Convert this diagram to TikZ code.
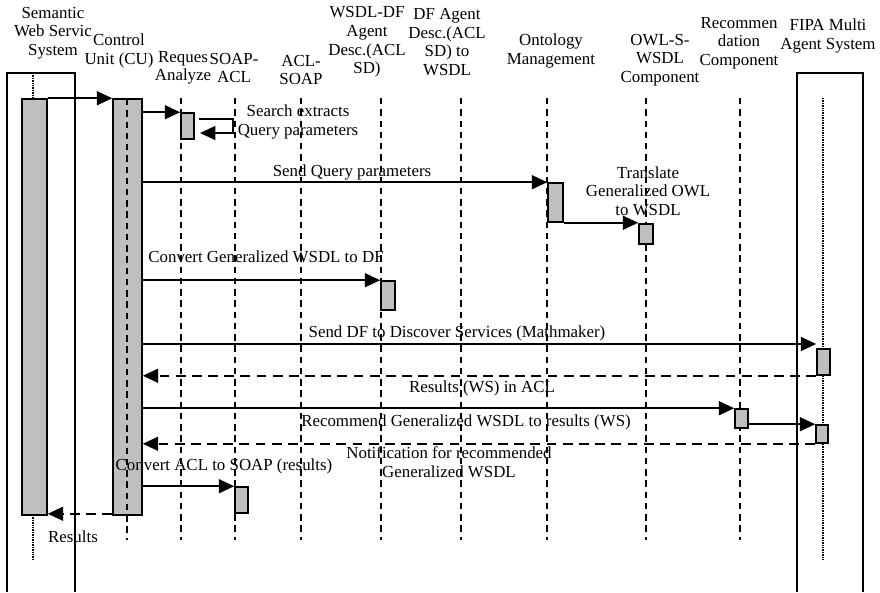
\documentclass[tikz,border=0pt]{standalone}
\usepackage{fontspec}
\setmainfont{Liberation Serif}
\usetikzlibrary{arrows.meta,fit}

\begin{document}
\begin{tikzpicture}[x=0.025cm, y=-0.025cm,
    every node/.style={font=\fontsize{12}{13.2}\selectfont},
    head/.style={align=center, inner sep=0pt},
    lbl/.style={align=center, inner sep=0pt},
    frame/.style={line width=1.1pt},
    actbar/.style={draw, fill=gray!50, line width=1.1pt, inner sep=0pt},
    lifeline/.style={line width=1.4pt, dash pattern=on 4.5pt off 3.5pt},
    dotline/.style={line width=1pt, dash pattern=on 0.6pt off 0.6pt},
    msg/.style={line width=1.1pt, -{Triangle[length=11pt,width=10pt]}},
    reply/.style={msg, dash pattern=on 7pt off 4.5pt}
]
\useasboundingbox (0,0) rectangle (880,592);

% participants
\node[head] (swsh) at (53,33)  {Semantic\\Web Servic\\System};
\node[head] (cuh)  at (119,51) {Control\\Unit (CU)};
\node[head] (rah)  at (183,68) {Reques\\Analyze};
\node[head] (sah)  at (234,68) {SOAP-\\ACL};
\node[head] (ash)  at (301,70) {ACL-\\SOAP};
\node[head] (wdh)  at (367,42) {WSDL-DF\\Agent\\Desc.(ACL\\SD)};
\node[head] (dwh)  at (447,42) {DF Agent\\Desc.(ACL\\SD) to\\WSDL};
\node[head] (onh)  at (551,51) {Ontology\\Management};
\node[head] (owh)  at (660,60) {OWL-S-\\WSDL\\Component};
\node[head] (reh)  at (739,43) {Recommen\\dation\\Component};
\node[head] (fih)  at (828,36) {FIPA Multi\\Agent System};

% lifelines
\foreach \x in {181,235,301,381,461,547,646,740}
  \draw[lifeline] (\x,98) -- (\x,540);

\draw[dotline] (33,73) -- (33,99);
\draw[dotline] (33,515) -- (33,560);
\draw[dotline] (823,98) -- (823,560);

\draw[frame] (7,592) |- (75,73) -- (75,592);
\draw[frame] (797,592) |- (863,73) -- (863,592);

% activation bars
\node[actbar, fit={(22,99) (47,515)}]   (swsb) {};
\node[actbar, fit={(113,99) (142,515)}] (cub)  {};
\node[actbar, fit={(181,113) (194,139)}] (rab) {};
\node[actbar, fit={(548,183) (563,222)}] (onb) {};
\node[actbar, fit={(639,224) (653,244)}] (owb) {};
\node[actbar, fit={(381,281) (395,310)}] (wdb) {};
\node[actbar, fit={(817,349) (830,375)}] (fib1) {};
\node[actbar, fit={(735,409) (748,428)}] (reb) {};
\node[actbar, fit={(816,425) (828,443)}] (fib2) {};
\node[actbar, fit={(235,487) (248,513)}] (sab) {};

\draw[lifeline] (127,99) -- (127,540);

% messages
\draw[msg] (swsb.north east) -- (cub.north west);
\draw[msg] (cub.east |- rab.north) -- (rab.north west);

\coordinate (loopA) at (199,119);
\coordinate (loopB) at (200,133);
\draw[msg] (loopA) -- ++(34,0) |- (loopB);
\node[lbl] (search) at (298,122) {Search extracts\\Query parameters};

\draw[msg] (cub.east |- onb.north) -- (onb.north west);
\node[lbl] (sendq) at (352,172) {Send Query parameters};

\draw[msg] (onb.south east) -- (onb.south east -| owb.west);
\node[lbl] (transl) at (648,191) {Translate\\Generalized OWL\\to WSDL};

\draw[msg] (cub.east |- wdb.north) -- (wdb.north west);
\node[lbl] (convdf) at (266,257) {Convert Generalized WSDL to DF};

\draw[msg] (cub.east |- 0,344) -- (fib1.west |- 0,344);
\node[lbl] (senddf) at (457,333) {Send DF to Discover Services (Mathmaker)};

\draw[reply] (fib1.south west) -- (cub.east |- fib1.south);
\node[lbl] (resws) at (482,388) {Results (WS) in ACL};

\draw[msg] (cub.east |- reb.north) -- (reb.north west);
\node[lbl] (recom) at (466,422) {Recommend Generalized WSDL to results (WS)};

\draw[msg] (reb.east |- fib2.north) -- (fib2.north west);
\draw[reply] (fib2.south west) -- (cub.east |- fib2.south);
\node[lbl] (notif) at (449,462) {Notification for recommended\\Generalized WSDL};

\draw[msg] (cub.east |- sab.north) -- (sab.north west);
\node[lbl] (convsoap) at (224,466) {Convert ACL to SOAP (results)};

\draw[reply] (cub.west |- sab.south) -- (swsb.east |- sab.south);
\node[lbl] (results) at (73,537) {Results};

\end{tikzpicture}
\end{document}
